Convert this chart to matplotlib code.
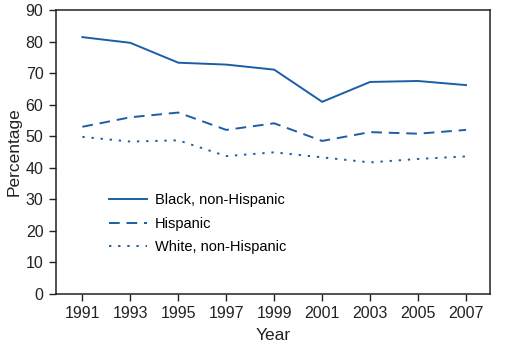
import matplotlib
matplotlib.use("Agg")
import matplotlib.pyplot as plt

plt.rcParams['font.family'] = ['Liberation Sans', 'DejaVu Sans']

years = [1991, 1993, 1995, 1997, 1999, 2001, 2003, 2005, 2007]
black = [81.4, 79.6, 73.3, 72.7, 71.1, 60.9, 67.2, 67.5, 66.2]
hispanic = [53.0, 56.0, 57.5, 52.0, 54.1, 48.5, 51.3, 50.8, 52.0]
white = [49.8, 48.3, 48.7, 43.7, 44.9, 43.3, 41.7, 42.8, 43.6]
labels = ["Black, non-Hispanic", "Hispanic", "White, non-Hispanic"]

color = '#1a5ea8'
fig = plt.figure(figsize=(5.14, 3.5), dpi=100)
ax = fig.add_axes([56/514, 1-294/350, (490-56)/514, (294-10)/350])
ax.plot(years, black, color=color, lw=1.4, label=labels[0])
ax.plot(years, hispanic, color=color, lw=1.4, ls=(0, (5.5, 3.5)), label=labels[1])
ax.plot(years, white, color=color, lw=1.4, ls=(0, (1.2, 3.5)), label=labels[2])

ax.set_xlim(1989.9, 2008.0)
ax.set_ylim(0, 90)
ax.set_xticks(years)
ax.set_yticks(range(0, 91, 10))
ax.tick_params(direction='out', length=5, width=1, labelsize=11.5, colors='#222222', pad=4)
for s in ax.spines.values():
    s.set_linewidth(1.1)
    s.set_color('#222222')
ax.set_xlabel('Year', fontsize=12.5, color='#222222', labelpad=5)
ax.set_ylabel('Percentage', fontsize=12.5, color='#222222', labelpad=3)
ax.legend(loc='upper left', bbox_to_anchor=(0.108, 0.375), frameon=False, fontsize=10.5,
          handlelength=2.6, handletextpad=0.55, labelspacing=0.65, borderaxespad=0)
fig.savefig('out.png', dpi=100)
